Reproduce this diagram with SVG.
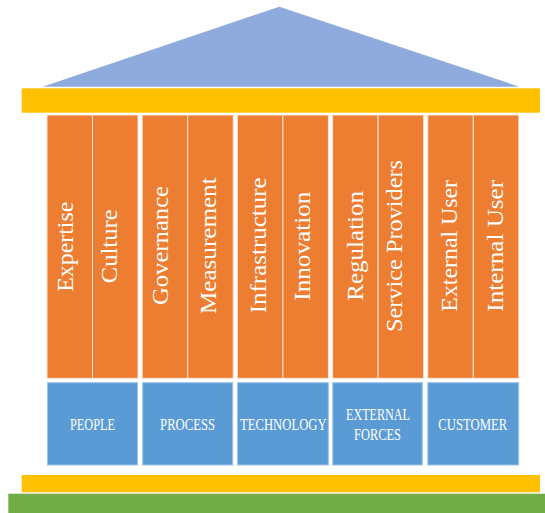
<svg xmlns="http://www.w3.org/2000/svg" width="545" height="513" viewBox="0 0 545 513">
  <style>
    .roof { fill: #8FAADC; }
    .beam { fill: #FFC000; }
    .ground { fill: #70AD47; }
    .col { fill: #ED7D31; stroke: #FBE3D3; stroke-width: 1; }
    .base { fill: #5B9BD5; stroke: #9DC3E6; stroke-width: 1; }
    .vt { font-family: "Liberation Serif", "DejaVu Serif", serif; font-size: 23px; fill: #FFFFFF; text-anchor: middle; }
    .bt { font-family: "Liberation Serif", "DejaVu Serif", serif; font-size: 17.5px; fill: #FFFFFF; text-anchor: middle; }
  </style>

  <!-- roof, top beam, floor -->
  <g id="roof">
    <polygon class="roof" points="42.7,86.7 279.3,6.7 519.3,86.7"/>
    <rect class="beam" x="21.7" y="88.3" width="518.3" height="24.4"/>
  </g>
  <g id="floor">
    <rect class="beam" x="21.7" y="475" width="518.3" height="17.3"/>
    <rect class="ground" x="8.3" y="493.7" width="536.7" height="19.3"/>
  </g>

  <!-- pillar: PEOPLE -->
  <g id="people">
    <rect class="col" x="47" y="115" width="45.5" height="263.3"/>
    <rect class="col" x="92.5" y="115" width="45.5" height="263.3"/>
    <text class="vt" transform="translate(72.7,246.7) rotate(-90)" textLength="90" lengthAdjust="spacingAndGlyphs">Expertise</text>
    <text class="vt" transform="translate(116.7,246.3) rotate(-90)" textLength="74" lengthAdjust="spacingAndGlyphs">Culture</text>
    <rect class="base" x="47.5" y="382.7" width="90" height="82.3"/>
    <text class="bt" x="92.5" y="430" textLength="45" lengthAdjust="spacingAndGlyphs">PEOPLE</text>
  </g>

  <!-- pillar: PROCESS -->
  <g id="process">
    <rect class="col" x="142.2" y="115" width="45.5" height="263.3"/>
    <rect class="col" x="187.7" y="115" width="45.5" height="263.3"/>
    <text class="vt" transform="translate(168.3,245.5) rotate(-90)" textLength="119" lengthAdjust="spacingAndGlyphs">Governance</text>
    <text class="vt" transform="translate(216,245.7) rotate(-90)" textLength="136.7" lengthAdjust="spacingAndGlyphs">Measurement</text>
    <rect class="base" x="142.7" y="382.7" width="90" height="82.3"/>
    <text class="bt" x="187.6" y="430" textLength="55" lengthAdjust="spacingAndGlyphs">PROCESS</text>
  </g>

  <!-- pillar: TECHNOLOGY -->
  <g id="technology">
    <rect class="col" x="237.4" y="115" width="45.5" height="263.3"/>
    <rect class="col" x="282.9" y="115" width="45.5" height="263.3"/>
    <text class="vt" transform="translate(265.7,245.3) rotate(-90)" textLength="136" lengthAdjust="spacingAndGlyphs">Infrastructure</text>
    <text class="vt" transform="translate(310,246.2) rotate(-90)" textLength="109" lengthAdjust="spacingAndGlyphs">Innovation</text>
    <rect class="base" x="237.5" y="382.7" width="90.8" height="82.3"/>
    <text class="bt" x="283.3" y="430" textLength="86.7" lengthAdjust="spacingAndGlyphs">TECHNOLOGY</text>
  </g>

  <!-- pillar: EXTERNAL FORCES -->
  <g id="external-forces">
    <rect class="col" x="332.6" y="115" width="45.5" height="263.3"/>
    <rect class="col" x="378.1" y="115" width="45.5" height="263.3"/>
    <text class="vt" transform="translate(362.7,245.8) rotate(-90)" textLength="109.7" lengthAdjust="spacingAndGlyphs">Regulation</text>
    <text class="vt" transform="translate(401.7,246) rotate(-90)" textLength="172" lengthAdjust="spacingAndGlyphs">Service Providers</text>
    <rect class="base" x="332.8" y="382.7" width="89.5" height="82.3"/>
    <text class="bt" x="378" y="420" textLength="64" lengthAdjust="spacingAndGlyphs">EXTERNAL</text>
    <text class="bt" x="377.5" y="440" textLength="47" lengthAdjust="spacingAndGlyphs">FORCES</text>
  </g>

  <!-- pillar: CUSTOMER -->
  <g id="customer">
    <rect class="col" x="427.8" y="115" width="45.5" height="263.3"/>
    <rect class="col" x="473.3" y="115" width="45.5" height="263.3"/>
    <text class="vt" transform="translate(457.3,245.8) rotate(-90)" textLength="131.7" lengthAdjust="spacingAndGlyphs">External User</text>
    <text class="vt" transform="translate(503.3,245.8) rotate(-90)" textLength="131.7" lengthAdjust="spacingAndGlyphs">Internal User</text>
    <rect class="base" x="427.8" y="382.7" width="90.9" height="82.3"/>
    <text class="bt" x="472.8" y="430" textLength="69" lengthAdjust="spacingAndGlyphs">CUSTOMER</text>
  </g>

  <!-- no connectors in this drawing -->
  <g id="connectors"/>
</svg>
